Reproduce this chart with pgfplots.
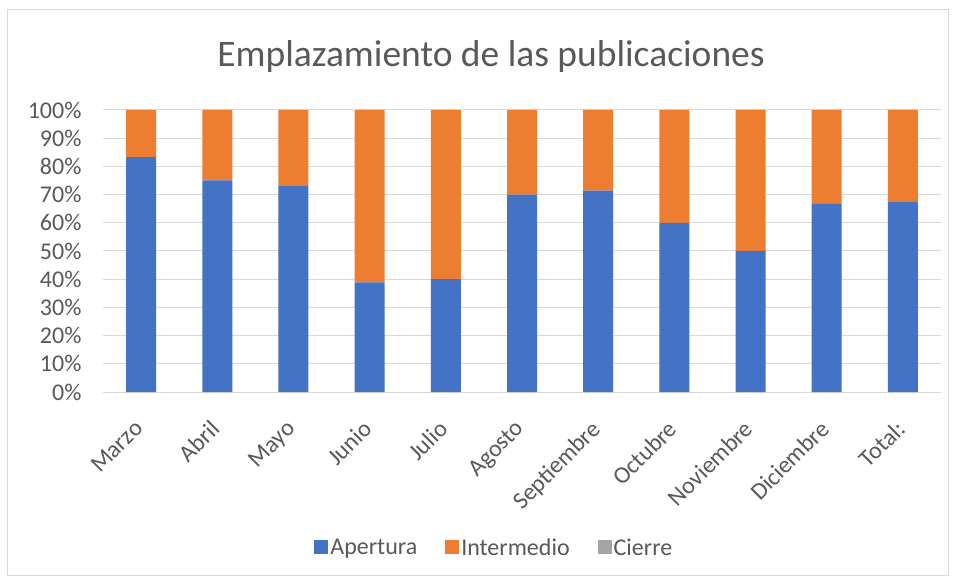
\documentclass[border=0pt]{standalone}
\usepackage{pgfplots}
\pgfplotsset{compat=1.18}
\usepackage{fontspec}
\setmainfont{Carlito}
\definecolor{cblue}{HTML}{4472C4}
\definecolor{corange}{HTML}{ED7D31}
\definecolor{cgray}{HTML}{A5A5A5}
\definecolor{ctext}{HTML}{595959}
\definecolor{cgrid}{HTML}{D9D9D9}
\begin{document}
\begin{tikzpicture}
\path[use as bounding box] (-103pt,-188pt) rectangle (854pt,392pt);
\draw[cgrid, line width=1pt, fill=white] (-95pt,-183pt) rectangle (845pt,382pt);
\begin{axis}[
  scale only axis,
  width=838pt, height=282pt,
  ybar stacked,
  bar width=30pt,
  xmin=-0.5, xmax=10.5,
  ymin=0, ymax=100,
  xtick={0,...,10},
  xticklabels={Marzo,Abril,Mayo,Junio,Julio,Agosto,Septiembre,Octubre,Noviembre,Diciembre,Total:},
  ytick={0,10,...,100},
  yticklabel={\pgfmathprintnumber{\tick}\%},
  /pgf/number format/assume math mode=true,
  major tick length=0pt,
  axis line style={draw=none},
  ymajorgrids,
  grid style={cgrid, line width=1pt},
  tick label style={font=\fontsize{24}{28}\selectfont, text=ctext},
  xticklabel style={xshift=-8pt, yshift=-24pt, rotate=45, anchor=north east, inner sep=2pt},
  yticklabel style={xshift=-18pt},
  title={Emplazamiento de las publicaciones},
  title style={font=\fontsize{37.5}{44}\selectfont, text=ctext, yshift=28pt, xshift=-31pt},
  legend style={at={(0.467,-0.553)}, anchor=center, draw=none, legend columns=-1,
    font=\fontsize{24}{28}\selectfont, text=ctext,
    /tikz/every even column/.append style={column sep=26pt}},
  legend image code/.code={\fill[#1] (0pt,-6pt) rectangle (14pt,8pt);},
]
\addplot[fill=cblue, draw=none] coordinates {(0,83.3) (1,75) (2,73.3) (3,38.9) (4,40) (5,70) (6,71.4) (7,60) (8,50) (9,66.7) (10,67.4)};
\addplot[fill=corange, draw=none] coordinates {(0,16.7) (1,25) (2,26.7) (3,61.1) (4,60) (5,30) (6,28.6) (7,40) (8,50) (9,33.3) (10,32.6)};
\addplot[fill=cgray, draw=none] coordinates {(0,0) (1,0) (2,0) (3,0) (4,0) (5,0) (6,0) (7,0) (8,0) (9,0) (10,0)};
\legend{Apertura,Intermedio,Cierre}
\end{axis}
\end{tikzpicture}
\end{document}
